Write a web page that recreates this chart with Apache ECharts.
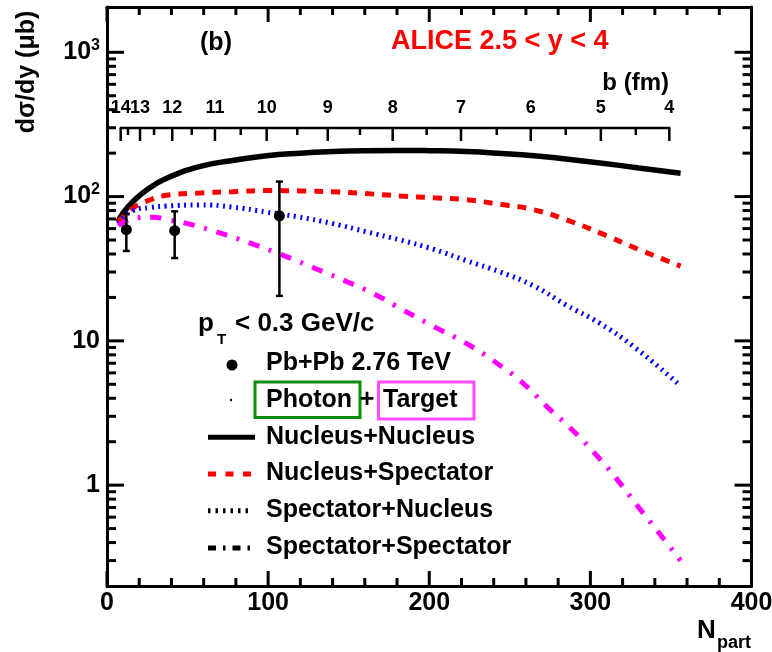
<!DOCTYPE html>
<html>
<head>
<meta charset="utf-8">
<title>Photoproduction cross section vs Npart</title>
<script src="https://cdn.jsdelivr.net/npm/echarts@6/dist/echarts.min.js"></script>
<style>
  html, body { margin: 0; padding: 0; background: #fff; }
  #chart { width: 772px; height: 652px; }
</style>
</head>
<body>
<div id="chart"></div>
<script>
// ---- Model curves: dσ/dy (μb) versus Npart ----
const npartNN = [7, 10, 16, 25, 37, 58, 78, 99, 120, 140, 161, 182, 200, 223, 245, 265, 285, 306, 330, 356];
const nucleusNucleus = [67, 77, 92, 112, 134, 162, 178, 192, 200, 205, 208, 209, 208, 205, 199, 192, 182, 171, 158, 145];

const npartNS = [7, 16, 27, 37, 58, 78, 99, 120, 140, 160, 182, 203, 223, 245, 265, 285, 306, 330, 356];
const nucleusSpectator = [67, 83, 95, 102, 106, 108, 110, 109.5, 108, 105, 101, 98, 95, 88, 81, 69, 56, 43, 33];

const npartSN = [7, 16, 27, 37, 58, 78, 99, 118, 140, 161, 182, 203, 223, 244, 265, 285, 306, 327, 354];
const spectatorNucleus = [65, 80, 84, 86, 87.5, 84.5, 78, 72.5, 65, 57, 50, 43, 36, 30, 24, 17.7, 13.2, 9.1, 5.1];

const npartSS = [7, 12, 17, 28, 38, 50, 70, 89, 111, 130, 149, 167, 184, 205, 223, 242, 259, 273, 289, 304, 317, 330, 343, 356];
const spectatorSpectator = [63, 68, 71, 72, 69, 65, 56, 47.5, 38.5, 31.5, 25.7, 20.8, 16.3, 12.2, 9.6, 7.0, 5.0, 3.5, 2.4, 1.6, 1.08, 0.70, 0.46, 0.30];

// ---- ALICE Pb+Pb 2.76 TeV measurements ----
const npartData = [12, 42, 107];
const sigmaData = [59, 58, 73.5];
const sigmaLow = [42, 37.5, 20.5];
const sigmaHigh = [76, 79, 127];

// ---- Impact parameter scale (top axis): b in fm and matching Npart ----
const bLabels = [14, 13, 12, 11, 10, 9, 8, 7, 6, 5, 4];
const bNpart = [8.5, 20.5, 40.5, 67.0, 99.1, 137.0, 177.3, 219.7, 263.0, 306.5, 349.0];
const bHalfNpart = [13.0, 29.2, 52.6, 83.0, 118.1, 157.0, 198.4, 241.9, 284.7, 328.2];

// ---- Frame tick positions ----
const xMajorTicks = [0, 100, 200, 300, 400];
const yTickValues = [1, 10, 100, 1000];
const yTickLabels = ['1', '10', '10{sup|2}', '10{sup|3}'];

const X_MIN = 0, X_MAX = 400;
const Y_MIN = 0.2, Y_MAX = 2060;
const FONT = '"Liberation Sans", Arial, Helvetica, sans-serif';
const B_AXIS_OFFSET = 121;   // distance of the b axis below the frame top, px
const TICK_W = 3;

const pairs = (xs, ys) => xs.map((x, i) => [x, ys[i]]);

// minor ticks: every 20 in Npart, 2..9 x 10^k on the log axis
const xMinorTicks = [];
for (let v = X_MIN + 20; v < X_MAX; v += 20) if (v % 100 !== 0) xMinorTicks.push(v);
const yMinorTicks = [];
for (let d = -1; d <= 2; d++) {
  for (let m = 2; m <= 9; m++) {
    const v = m * Math.pow(10, d);
    if (v > Y_MIN && v < Y_MAX) yMinorTicks.push(v);
  }
}

const chart = echarts.init(document.getElementById('chart'), null, { renderer: 'canvas' });

const axisLineStyle = { color: '#000', width: 3 };
const tickStroke = () => ({ stroke: '#000', lineWidth: 2.5 });

function xAxisDef(position, showLabels) {
  return {
    type: 'value', position, min: X_MIN, max: X_MAX, interval: 100,
    axisLine: { show: true, onZero: false, lineStyle: axisLineStyle },
    axisTick: { show: false },
    splitLine: { show: false },
    axisLabel: {
      show: showLabels, color: '#000', fontFamily: FONT, fontWeight: 'bold',
      fontSize: 25, margin: 5
    }
  };
}

function yAxisDef(position, showLabels) {
  return {
    type: 'log', logBase: 10, position, min: Y_MIN, max: Y_MAX,
    axisLine: { show: true, onZero: false, lineStyle: axisLineStyle },
    axisTick: { show: false },
    splitLine: { show: false },
    axisLabel: {
      show: showLabels, color: '#000', fontFamily: FONT, fontWeight: 'bold',
      fontSize: 25, lineHeight: 30, margin: 7,
      showMinLabel: false, showMaxLabel: false,
      formatter: v => {
        const i = yTickValues.findIndex(t => Math.abs(t - v) / t < 1e-6);
        return i < 0 ? '' : yTickLabels[i];
      },
      rich: {
        sup: { fontSize: 16, fontWeight: 'bold', fontFamily: FONT, color: '#000', verticalAlign: 'top', lineHeight: 22 }
      }
    }
  };
}

function lineSeries(name, xs, ys, color, width, dash) {
  return {
    name, type: 'line', data: pairs(xs, ys),
    showSymbol: false, symbol: 'none', smooth: true, clip: true,
    lineStyle: { color, width, type: dash, cap: 'butt' },
    z: 3, silent: true
  };
}

function txt(x, y, text, size, opts) {
  const o = opts || {};
  return {
    type: 'text', x, y, rotation: o.rotation || 0, silent: true, z: 20,
    style: {
      text, fill: o.color || '#000',
      font: `bold ${size}px ${FONT}`,
      align: o.align || 'left', textAlign: o.align || 'left',
      verticalAlign: 'middle', textVerticalAlign: 'middle'
    }
  };
}

function seg(x1, y1, x2, y2, color, width, dash) {
  return {
    type: 'line', silent: true, z: 20,
    shape: { x1, y1, x2, y2 },
    style: { stroke: color, lineWidth: width, lineDash: dash || null, lineCap: 'butt' }
  };
}

const option = {
  backgroundColor: '#fff',
  animation: false,
  grid: { left: 107, right: 20.5, top: 7, bottom: 66, containLabel: false, outerBoundsMode: 'none' },
  xAxis: [xAxisDef('bottom', true), xAxisDef('top', false)],
  yAxis: [yAxisDef('left', true), yAxisDef('right', false)],
  series: [
    lineSeries('Nucleus+Nucleus', npartNN, nucleusNucleus, '#000000', 5.5, 'solid'),
    lineSeries('Nucleus+Spectator', npartNS, nucleusSpectator, '#ff0000', 5, [9, 8]),
    lineSeries('Spectator+Nucleus', npartSN, spectatorNucleus, '#0000ff', 5, [2, 4.5]),
    lineSeries('Spectator+Spectator', npartSS, spectatorSpectator, '#ff00ff', 5, [11, 10, 3, 10]),
    {
      // vertical error bars with end caps
      name: 'Pb+Pb errors', type: 'custom', coordinateSystem: 'cartesian2d',
      data: npartData.map((n, i) => [n, sigmaLow[i], sigmaHigh[i]]),
      encode: { x: 0, y: [1, 2] }, z: 4, silent: true,
      renderItem(params, api) {
        const lo = api.coord([api.value(0), api.value(1)]);
        const hi = api.coord([api.value(0), api.value(2)]);
        const cap = 3.5;
        const st = { stroke: '#000', lineWidth: 2.5 };
        return {
          type: 'group', children: [
            { type: 'line', shape: { x1: lo[0], y1: lo[1], x2: hi[0], y2: hi[1] }, style: st },
            { type: 'line', shape: { x1: lo[0] - cap, y1: lo[1], x2: lo[0] + cap, y2: lo[1] }, style: st },
            { type: 'line', shape: { x1: hi[0] - cap, y1: hi[1], x2: hi[0] + cap, y2: hi[1] }, style: st }
          ]
        };
      }
    },
    {
      name: 'Pb+Pb 2.76 TeV', type: 'scatter', data: pairs(npartData, sigmaData),
      symbol: 'circle', symbolSize: 11, itemStyle: { color: '#000', opacity: 1 }, z: 5, silent: true
    },
    {
      // b axis: baseline
      name: 'b axis line', type: 'custom', coordinateSystem: 'cartesian2d',
      data: [[bNpart[0], Y_MAX, bNpart[bNpart.length - 1]]], encode: { x: 0, y: 1 }, z: 6, silent: true,
      renderItem(params, api) {
        const top = api.coord([X_MIN, Y_MAX])[1];
        const y = top + B_AXIS_OFFSET;
        const x1 = api.coord([api.value(0), Y_MAX])[0];
        const x2 = api.coord([api.value(2), Y_MAX])[0];
        return { type: 'line', shape: { x1: x1 - 1, y1: y, x2: x2 + 1, y2: y }, style: tickStroke() };
      }
    },
    {
      // b axis: labelled ticks
      name: 'b axis ticks', type: 'custom', coordinateSystem: 'cartesian2d',
      data: bNpart.map((n, i) => [n, Y_MAX, bLabels[i]]), encode: { x: 0, y: 1 }, z: 6, silent: true,
      renderItem(params, api) {
        const top = api.coord([X_MIN, Y_MAX])[1];
        const y = top + B_AXIS_OFFSET;
        const x = api.coord([api.value(0), Y_MAX])[0];
        return {
          type: 'group', children: [
            { type: 'line', shape: { x1: x, y1: y, x2: x, y2: y + 13 }, style: tickStroke() },
            {
              type: 'text', x, y: y - 20,
              style: {
                text: String(api.value(2)), fill: '#000', font: `bold 18px ${FONT}`,
                align: 'center', textAlign: 'center', verticalAlign: 'middle', textVerticalAlign: 'middle'
              }
            }
          ]
        };
      }
    },
    {
      // b axis: half-fm ticks
      name: 'b axis minor ticks', type: 'custom', coordinateSystem: 'cartesian2d',
      data: bHalfNpart.map(n => [n, Y_MAX]), encode: { x: 0, y: 1 }, z: 6, silent: true,
      renderItem(params, api) {
        const top = api.coord([X_MIN, Y_MAX])[1];
        const y = top + B_AXIS_OFFSET;
        const x = api.coord([api.value(0), Y_MAX])[0];
        return { type: 'line', shape: { x1: x, y1: y, x2: x, y2: y + 7 }, style: tickStroke() };
      }
    }
  ]
};

chart.setOption(option);

// ---- Frame ticks on all four sides, placed through the axis scales ----
const xAxisScale = chart.getModel().getComponent('xAxis', 0).axis;
const yAxisScale = chart.getModel().getComponent('yAxis', 0).axis;
const xPx = v => xAxisScale.toGlobalCoord(xAxisScale.dataToCoord(v));
const yPx = v => yAxisScale.toGlobalCoord(yAxisScale.dataToCoord(v));
const frameTicks = [];
function addXTicks(values, len) {
  const yb = yPx(Y_MIN), yt = yPx(Y_MAX);
  values.forEach(v => {
    const x = xPx(v);
    frameTicks.push(seg(x, yb, x, yb - len, '#000', TICK_W));
    frameTicks.push(seg(x, yt, x, yt + len, '#000', TICK_W));
  });
}
function addYTicks(values, len) {
  const xl = xPx(X_MIN), xr = xPx(X_MAX);
  values.forEach(v => {
    const y = yPx(v);
    frameTicks.push(seg(xl, y, xl + len, y, '#000', TICK_W));
    frameTicks.push(seg(xr, y, xr - len, y, '#000', TICK_W));
  });
}
addXTicks(xMajorTicks, 15);
addXTicks(xMinorTicks, 8);
addYTicks(yTickValues, 17);
addYTicks(yMinorTicks, 9);

// ---- Titles, annotations and legend ----
const labels = [
  // axis titles
  txt(27, 72, 'dσ/dy (μb)', 25, { rotation: Math.PI / 2, align: 'center' }),
  txt(697, 631, 'N', 26),
  txt(717, 643, 'part', 18),
  txt(669, 83, 'b (fm)', 24, { align: 'right' }),
  // panel annotations
  txt(216, 43, '(b)', 25, { align: 'center' }),
  txt(391, 42, 'ALICE 2.5 < y < 4', 27, { color: '#ff0000' }),
  // legend header
  txt(198, 324, 'p', 26),
  txt(217, 340, 'T', 15),
  txt(235, 324, '< 0.3 GeV/c', 26),
  // legend: data
  { type: 'circle', silent: true, z: 20, shape: { cx: 232, cy: 365, r: 5.5 }, style: { fill: '#000' } },
  txt(266, 363.3, 'Pb+Pb 2.76 TeV', 25),
  // legend: photon + target
  { type: 'circle', silent: true, z: 20, shape: { cx: 231, cy: 400, r: 1.2 }, style: { fill: '#000' } },
  { type: 'rect', silent: true, z: 20, shape: { x: 255, y: 382, width: 105, height: 35.5 }, style: { fill: null, stroke: '#0b8c0b', lineWidth: 3 } },
  { type: 'rect', silent: true, z: 20, shape: { x: 378.5, y: 382, width: 95.5, height: 37 }, style: { fill: null, stroke: '#ff4dff', lineWidth: 3 } },
  txt(266, 400, 'Photon', 25),
  txt(367, 400, '+', 25, { align: 'center' }),
  txt(383, 400, 'Target', 25),
  // legend: model curves
  seg(208, 437.3, 255, 437.3, '#000', 5),
  txt(266, 436.7, 'Nucleus+Nucleus', 25),
  seg(208, 474, 252, 474, '#ff0000', 5, [8, 9.5]),
  txt(266, 473.3, 'Nucleus+Spectator', 25),
  seg(208, 510.7, 253, 510.7, '#000', 5, [2.5, 5]),
  txt(266, 510, 'Spectator+Nucleus', 25),
  seg(208, 548, 250, 548, '#000', 5, [8, 7, 2.5, 7]),
  txt(266, 546.7, 'Spectator+Spectator', 25)
];

chart.setOption({ graphic: { elements: frameTicks.concat(labels) } });
</script>
</body>
</html>
